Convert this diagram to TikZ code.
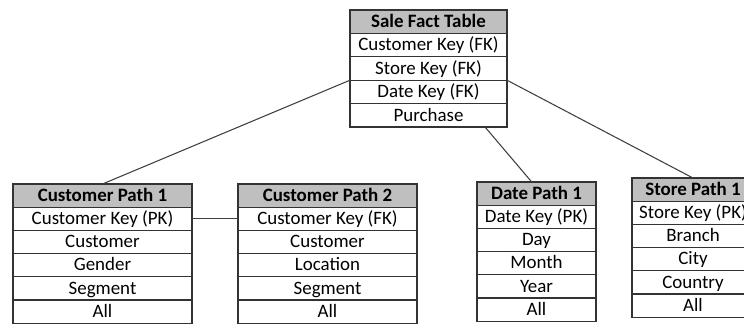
\documentclass[tikz,border=0pt]{standalone}
\usepackage{fontspec}
\setmainfont{Carlito}
\usetikzlibrary{calc}
\definecolor{boxline}{HTML}{333333}
\definecolor{linkgray}{HTML}{404040}
\definecolor{headgray}{HTML}{BFBFBF}
\begin{document}
\begin{tikzpicture}[
  cell/.style={draw=boxline, line width=0.8pt, minimum height=17.4pt, inner sep=0pt, outer sep=0pt, text height=10.8pt, text depth=2.2pt, anchor=north, font=\fontsize{14.2}{16}\selectfont},
  head/.style={cell, fill=headgray, font=\fontsize{14.2}{16}\selectfont\bfseries},
  salew/.style={minimum width=117.75pt, minimum height=17.55pt},
  custw/.style={minimum width=134.25pt},
  datew/.style={minimum width=89.25pt},
  storew/.style={minimum width=91.5pt},
  link/.style={draw=linkgray, line width=0.8pt}
]
\clip (0,0) rectangle (558pt,-243.75pt);
\fill[white] (0,0) rectangle (558pt,-243.75pt);

% Sale Fact Table
\node[head, salew] (s0) at (321.375pt,-7.5pt) {Sale Fact Table};
\node[cell, salew] (s1) at (s0.south) {Customer Key (FK)};
\node[cell, salew] (s2) at (s1.south) {Store Key (FK)};
\node[cell, salew] (s3) at (s2.south) {Date Key (FK)};
\node[cell, salew] (s4) at (s3.south) {Purchase};

% Customer Path 1
\node[head, custw] (a0) at (76.875pt,-138pt) {Customer Path 1};
\node[cell, custw] (a1) at (a0.south) {Customer Key (PK)};
\node[cell, custw] (a2) at (a1.south) {Customer};
\node[cell, custw] (a3) at (a2.south) {Gender};
\node[cell, custw] (a4) at (a3.south) {Segment};
\node[cell, custw] (a5) at (a4.south) {All};

% Customer Path 2
\node[head, custw] (b0) at (245.625pt,-138pt) {Customer Path 2};
\node[cell, custw] (b1) at (b0.south) {Customer Key (FK)};
\node[cell, custw] (b2) at (b1.south) {Customer};
\node[cell, custw] (b3) at (b2.south) {Location};
\node[cell, custw] (b4) at (b3.south) {Segment};
\node[cell, custw] (b5) at (b4.south) {All};

% Date Path 1
\node[head, datew] (d0) at (402.375pt,-136.5pt) {Date Path 1};
\node[cell, datew] (d1) at (d0.south) {Date Key (PK)};
\node[cell, datew] (d2) at (d1.south) {Day};
\node[cell, datew] (d3) at (d2.south) {Month};
\node[cell, datew] (d4) at (d3.south) {Year};
\node[cell, datew] (d5) at (d4.south) {All};

% Store Path 1
\node[head, storew] (t0) at (519.75pt,-133.5pt) {Store Path 1};
\node[cell, storew] (t1) at (t0.south) {Store Key (PK)};
\node[cell, storew] (t2) at (t1.south) {Branch};
\node[cell, storew] (t3) at (t2.south) {City};
\node[cell, storew] (t4) at (t3.south) {Country};
\node[cell, storew] (t5) at (t4.south) {All};

% connectors
\draw[link] (s3.north west) -- (a0.north);
\draw[link] (s3.north east) -- (t0.north);
\draw[link] ($(s4.south west)!0.86!(s4.south east)$) -- ($(d0.north west)!0.46!(d0.north east)$);
\draw[link] (a1.east) -- (b1.west);
\end{tikzpicture}
\end{document}
